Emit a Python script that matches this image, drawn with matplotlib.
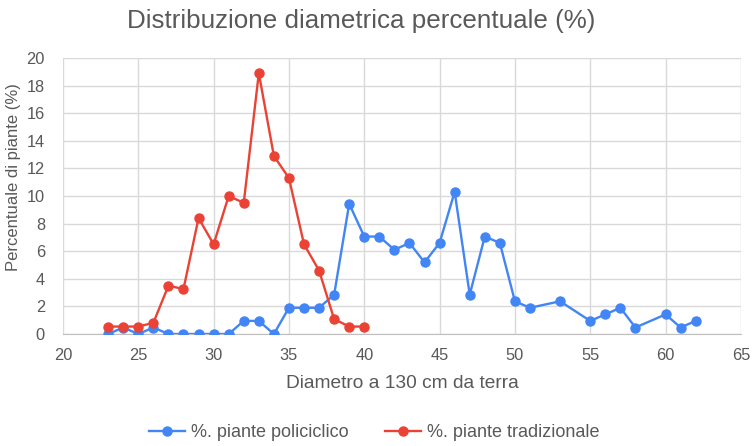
import matplotlib.pyplot as plt

plt.rcParams['font.family'] = ['Liberation Sans', 'DejaVu Sans']

# diametri (cm) e percentuali
x_poli = [23, 24, 25, 26, 27, 28, 29, 30, 31, 32, 33, 34, 35, 36, 37, 38, 39, 40, 41, 42,
          43, 44, 45, 46, 47, 48, 49, 50, 51, 53, 55, 56, 57, 58, 60, 61, 62]
y_poli = [0, 0.47, 0, 0.47, 0, 0, 0, 0, 0, 0.95, 0.95, 0, 1.9, 1.9, 1.9, 2.85, 9.43, 7.06, 7.06, 6.1,
          6.6, 5.19, 6.6, 10.3, 2.85, 7.06, 6.6, 2.37, 1.9, 2.37, 0.95, 1.42, 1.9, 0.47, 1.42, 0.47, 0.95]

x_trad = [23, 24, 25, 26, 27, 28, 29, 30, 31, 32, 33, 34, 35, 36, 37, 38, 39, 40]
y_trad = [0.54, 0.54, 0.54, 0.81, 3.5, 3.26, 8.4, 6.5, 10.0, 9.5, 18.9, 12.9, 11.3, 6.5, 4.6, 1.08, 0.54, 0.54]

blue = '#4285F4'
red = '#EA4335'
grey = '#595959'

fig = plt.figure(figsize=(7.56, 4.46), dpi=100)
ax = fig.add_axes([0.0833, 0.2511, 0.8967, 0.619])

ax.plot(x_poli, y_poli, color=blue, marker='o', markersize=6.5, linewidth=1.7,
        label='%. piante policiclico', zorder=3)
ax.plot(x_trad, y_trad, color=red, marker='o', markersize=6.5, linewidth=1.7,
        label='%. piante tradizionale', zorder=3)

ax.set_xlim(20, 65)
ax.set_ylim(0, 20)
ax.set_xticks(range(20, 66, 5))
ax.set_yticks(range(0, 21, 2))
ax.grid(True, color='#d9d9d9', linewidth=1)
ax.set_axisbelow(True)
for s in ['top', 'right', 'left']:
    ax.spines[s].set_visible(False)
ax.spines['bottom'].set_color('#bfbfbf')
ax.tick_params(length=0, labelsize=11.8, colors=grey)
ax.tick_params(axis='x', pad=10)
ax.tick_params(axis='y', pad=13)

fig.text(0.478, 0.952, 'Distribuzione diametrica percentuale (%)', fontsize=18.7,
         color=grey, ha='center', va='center')
ax.set_xlabel('Diametro a 130 cm da terra', fontsize=13.8, color=grey, labelpad=9)
ax.set_ylabel('Percentuale di piante (%)', fontsize=12, color=grey)
ax.yaxis.set_label_coords(-0.062, 0.57)

fig.legend(loc='center', bbox_to_anchor=(0.495, 0.03), ncol=2, frameon=False,
           fontsize=13, labelcolor=grey, handlelength=2.0, handletextpad=0.35,
           columnspacing=2.0)

fig.savefig('out.png', dpi=100)
